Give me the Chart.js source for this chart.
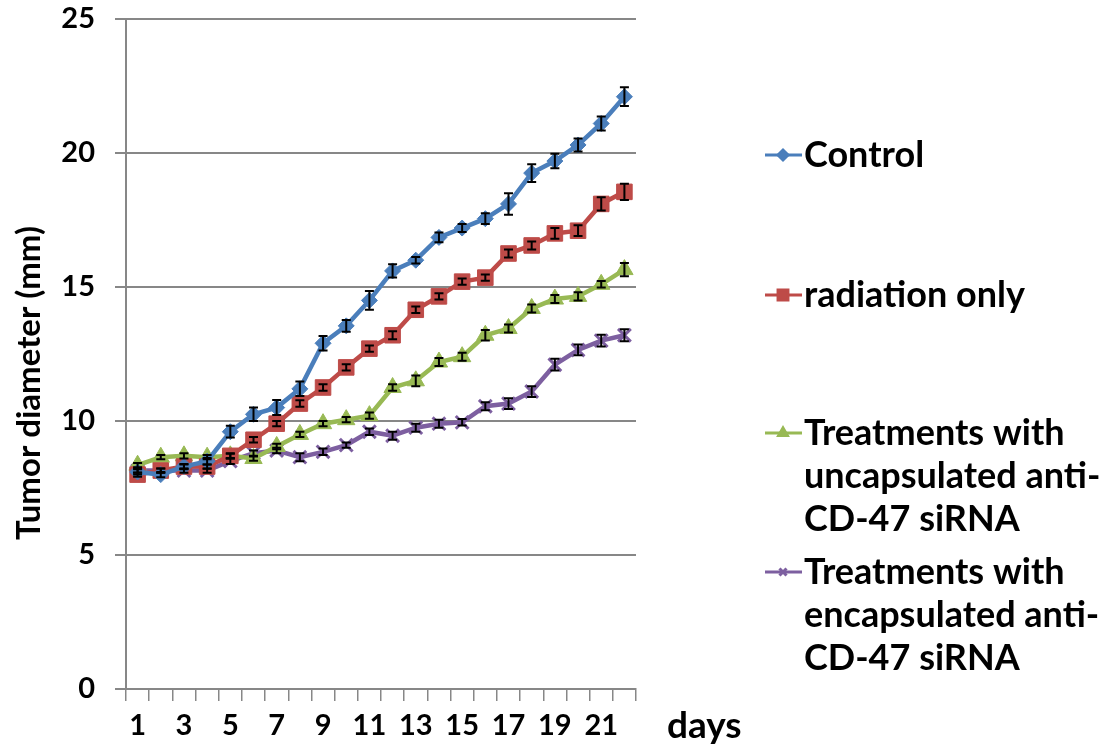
<!DOCTYPE html>
<html>
<head>
<meta charset="utf-8">
<script src="https://cdn.jsdelivr.net/npm/chart.js@4.4.0/dist/chart.umd.min.js"></script>
<style>
  html, body { margin: 0; padding: 0; background: #fff; }
  #wrap { width: 1113px; height: 752px; }
</style>
</head>
<body>
<div id="wrap"><canvas id="chart" width="1113" height="752"></canvas></div>
<script>
const days = ["1","2","3","4","5","6","7","8","9","10","11","12","13","14","15","16","17","18","19","20","21","22"];

const seriesNames = ["Control", "radiation only",
  "Treatments with uncapsulated anti-CD-47 siRNA",
  "Treatments with encapsulated anti-CD-47 siRNA"];
const legendLines = [
  ["Control"],
  ["radiation only"],
  ["Treatments with", "uncapsulated anti-", "CD-47 siRNA"],
  ["Treatments with", "encapsulated anti-", "CD-47 siRNA"]
];

const control = [8.1, 8.0, 8.3, 8.5, 9.6, 10.25, 10.5, 11.2, 12.9, 13.55, 14.5, 15.6, 16.0, 16.85, 17.2, 17.55, 18.1, 19.25, 19.7, 20.3, 21.1, 22.1];
const radiation = [8.0, 8.15, 8.3, 8.3, 8.7, 9.3, 9.9, 10.65, 11.25, 12.0, 12.7, 13.2, 14.15, 14.65, 15.2, 15.35, 16.25, 16.55, 17.0, 17.1, 18.1, 18.55];
const uncapsulated = [8.35, 8.65, 8.7, 8.65, 8.7, 8.6, 9.05, 9.5, 9.9, 10.05, 10.2, 11.25, 11.5, 12.2, 12.4, 13.2, 13.45, 14.2, 14.55, 14.65, 15.1, 15.65];
const encapsulated = [8.15, 8.15, 8.15, 8.15, 8.5, 8.8, 8.9, 8.65, 8.85, 9.1, 9.6, 9.45, 9.75, 9.9, 9.95, 10.55, 10.65, 11.1, 12.1, 12.65, 13.0, 13.2];

const controlErr = [0.1, 0.1, 0.1, 0.12, 0.22, 0.25, 0.28, 0.27, 0.27, 0.22, 0.35, 0.25, 0.12, 0.18, 0.15, 0.2, 0.4, 0.33, 0.27, 0.24, 0.26, 0.35];
const radiationErr = [0.08, 0.08, 0.08, 0.08, 0.1, 0.1, 0.1, 0.12, 0.12, 0.12, 0.12, 0.15, 0.12, 0.12, 0.12, 0.12, 0.15, 0.15, 0.2, 0.2, 0.25, 0.3];
const uncapsulatedErr = [0.08, 0.08, 0.1, 0.08, 0.08, 0.08, 0.1, 0.1, 0.1, 0.1, 0.12, 0.12, 0.2, 0.15, 0.15, 0.2, 0.15, 0.15, 0.15, 0.15, 0.12, 0.25];
const encapsulatedErr = [0.08, 0.08, 0.08, 0.08, 0.1, 0.1, 0.1, 0.15, 0.12, 0.1, 0.12, 0.15, 0.15, 0.15, 0.12, 0.15, 0.2, 0.2, 0.22, 0.2, 0.22, 0.22];

const yTicks = [0, 5, 10, 15, 20, 25];

const colors = ["#4a7ebb", "#be4b48", "#98b954", "#7d5fa0"];
const styles = ["rectRot", "rect", "triangle", "crossRot"];
const radii = [8, 11, 10, 9];
const values = [control, radiation, uncapsulated, encapsulated];
const errors = [controlErr, radiationErr, uncapsulatedErr, encapsulatedErr];

const FONT = "Lato, 'Open Sans', sans-serif";
const gridGray = "#878787";

const errorBars = {
  id: "errorBars",
  afterDatasetsDraw(chart) {
    const ctx = chart.ctx;
    const y = chart.scales.y;
    ctx.save();
    ctx.strokeStyle = "#000";
    ctx.lineWidth = 2;
    chart.data.datasets.forEach((ds, di) => {
      const meta = chart.getDatasetMeta(di);
      meta.data.forEach((pt, i) => {
        const e = errors[di][i];
        const v = ds.data[i];
        const top = y.getPixelForValue(v + e);
        const bot = y.getPixelForValue(v - e);
        ctx.beginPath();
        ctx.moveTo(pt.x, top); ctx.lineTo(pt.x, bot);
        ctx.moveTo(pt.x - 4.5, top); ctx.lineTo(pt.x + 4.5, top);
        ctx.moveTo(pt.x - 4.5, bot); ctx.lineTo(pt.x + 4.5, bot);
        ctx.stroke();
      });
    });
    ctx.restore();
  }
};

const extras = {
  id: "extras",
  afterDraw(chart) {
    const ctx = chart.ctx;
    const area = chart.chartArea;
    ctx.save();
    ctx.fillStyle = "#000";

    // y axis title
    ctx.save();
    ctx.translate(29, 383);
    ctx.rotate(-Math.PI / 2);
    ctx.font = "bold 33px " + FONT;
    ctx.textAlign = "center";
    ctx.textBaseline = "middle";
    ctx.fillText("Tumor diameter (mm)", 0, 0);
    ctx.restore();

    // x axis title
    ctx.font = "bold 37px " + FONT;
    ctx.textAlign = "left";
    ctx.textBaseline = "alphabetic";
    ctx.fillText("days", area.right + 31, 738);

    // legend
    const rows = [155, 295, 433, 572];
    const lh = 43;
    chart.data.datasets.forEach((ds, i) => {
      const y0 = rows[i];
      ctx.strokeStyle = colors[i];
      ctx.lineWidth = 3;
      ctx.beginPath();
      ctx.moveTo(765, y0); ctx.lineTo(802, y0);
      ctx.stroke();
      ctx.fillStyle = colors[i];
      Chart.helpers.drawPoint(ctx, {
        pointStyle: styles[i], radius: i === 1 ? 7 : 5, rotation: 0, borderWidth: 1.5
      }, 783, y0);
      ctx.fillStyle = "#000";
      ctx.font = "bold 36px " + FONT;
      ctx.textBaseline = "middle";
      legendLines[i].forEach((t, k) => ctx.fillText(t, 804, y0 + k * lh));
    });
    ctx.restore();
  }
};

new Chart(document.getElementById("chart"), {
  type: "line",
  data: {
    labels: days,
    datasets: values.map((v, i) => ({
      label: seriesNames[i],
      data: v,
      borderColor: colors[i],
      backgroundColor: colors[i],
      borderWidth: 4.5,
      pointStyle: styles[i],
      pointRadius: radii[i],
      pointBorderWidth: i === 3 ? 3 : 1,
      pointBorderColor: colors[i],
      tension: 0
    }))
  },
  options: {
    responsive: false,
    animation: false,
    layout: { padding: { top: 19, right: 477, left: 0, bottom: 0 } },
    plugins: { legend: { display: false }, tooltip: { enabled: false } },
    scales: {
      x: {
        offset: true,
        grid: { drawOnChartArea: false, offset: true, tickLength: 12, color: gridGray, lineWidth: 1.5 },
        border: { color: gridGray, width: 2 },
        ticks: {
          autoSkip: false, maxRotation: 0, padding: 7, color: "#000",
          font: { family: FONT, size: 29, weight: "bold" },
          callback: (val, idx) => idx % 2 === 0 ? days[idx] : ""
        },
        afterFit: (s) => { s.height = 63; s.paddingLeft = 0; s.paddingRight = 0; }
      },
      y: {
        min: 0, max: 25,
        afterBuildTicks: (s) => { s.ticks = yTicks.map(v => ({ value: v })); },
        grid: { color: gridGray, lineWidth: 2, tickLength: 11 },
        border: { color: gridGray, width: 2 },
        ticks: {
          padding: 20, color: "#000",
          font: { family: FONT, size: 29, weight: "bold" }
        },
        afterFit: (s) => { s.width = 126; s.paddingTop = 0; s.paddingBottom = 0; }
      }
    }
  },
  plugins: [errorBars, extras]
});
</script>
</body>
</html>
